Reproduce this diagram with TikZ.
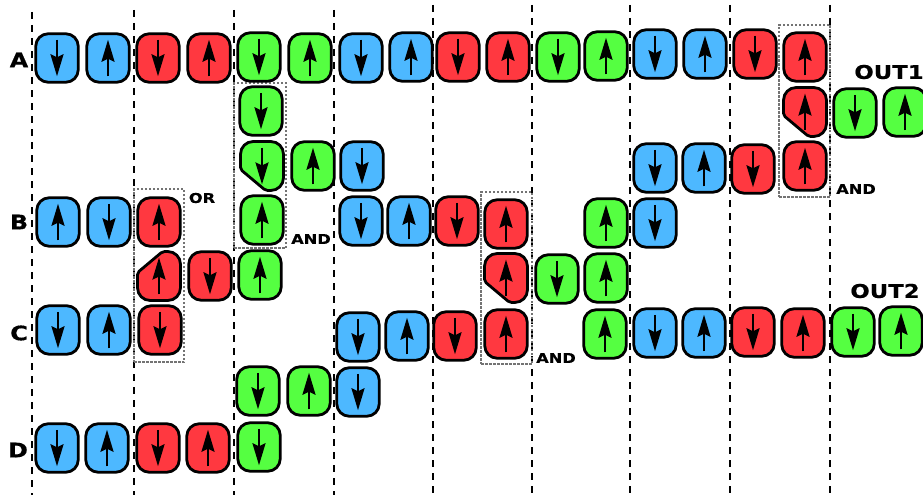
\documentclass[tikz,border=0pt]{standalone}
\usepackage{fontspec}
\setmainfont{DejaVu Sans}[FakeStretch=1.2, BoldFeatures={FakeBold=0.4}]
\usetikzlibrary{arrows.meta}
\definecolor{bluecell}{RGB}{77,184,255}
\definecolor{redcell}{RGB}{255,56,64}
\definecolor{greencell}{RGB}{85,255,65}

\begin{document}
\begin{tikzpicture}[
  x=1pt, y=-1pt,
  cellline/.style={draw, line width=2.8pt, line join=round},
  arr/.style={-{Stealth[length=22pt, width=13pt, inset=3pt]}, line width=2.2pt},
  box/.style={cellline, rounded corners=12.5pt, minimum width=42.5pt, minimum height=48.5pt,
              inner sep=0pt, fill=#1},
  dn/.style={box=#1, path picture={\draw[arr]
      ([yshift=-6pt]path picture bounding box.north) -- ([yshift=6pt]path picture bounding box.south);}},
  up/.style={box=#1, path picture={\draw[arr]
      ([yshift=6pt]path picture bounding box.south) -- ([yshift=-6pt]path picture bounding box.north);}},
  slot/.style={minimum width=42.5pt, minimum height=48.5pt, inner sep=0pt},
  zone/.style={dash pattern=on 7pt off 6pt, line width=2.2pt},
  gate/.style={draw=black!55, dash pattern=on 2.5pt off 1.5pt, line width=2.1pt,
               minimum width=#1, inner sep=0pt},
  lbl/.style={font=\fontsize{20}{20}\selectfont\bfseries, inner sep=0pt},
  outlbl/.style={font=\fontsize{19}{19}\selectfont\bfseries, inner sep=0pt},
  tag/.style={font=\fontsize{13.5}{14}\selectfont\bfseries, inner sep=0pt}]
\useasboundingbox (0,0) rectangle (923,495);
% clock zones
\foreach \x/\y in {32/12,134/10,234/10,334/10,433/5,532/5,630/5,730/5,830/5}
  \draw[zone] (\x,\y) -- (\x,495);
% majority gates
\node[gate=50pt, minimum height=173pt] (orgate) at (159,275.5) {};
\node[gate=52pt, minimum height=165pt] (andgatea) at (260,165.5) {};
\node[gate=51pt, minimum height=172pt] (andgateb) at (506.5,278) {};
\node[gate=51pt, minimum height=172pt] (andgatec) at (804.5,111) {};
% line A
\node[dn=bluecell] (a1) at (57,58) {};
\node[up=bluecell] (a2) at (108,58) {};
\node[dn=redcell] (a3) at (158,58) {};
\node[up=redcell] (a4) at (209,58) {};
\node[dn=greencell] (a5) at (259,57) {};
\node[up=greencell] (a6) at (310,58) {};
\node[dn=bluecell] (a7) at (361,58) {};
\node[up=bluecell] (a8) at (411,57) {};
\node[dn=redcell] (a9) at (458,57) {};
\node[up=redcell] (a10) at (508,57) {};
\node[dn=greencell] (a11) at (558,57) {};
\node[up=greencell] (a12) at (606,56) {};
\node[dn=bluecell] (a13) at (655,54) {};
\node[up=bluecell] (a14) at (705,54) {};
\node[dn=redcell] (a15) at (755,54) {};
\node[up=redcell] (a16) at (805,57) {};
% first gate and its branch
\node[dn=greencell] (e1) at (261,111) {};
\node[slot] (e2) at (262,166) {};
\draw[cellline, fill=greencell, rounded corners=12.5pt] (e2.north west) -- (e2.north east) -- (e2.south east)
  [rounded corners=2pt] -- ([xshift=25pt]e2.south west) -- ([yshift=21pt]e2.south west)
  [rounded corners=12.5pt] -- cycle;
\draw[arr] ([yshift=-6pt]e2.north) -- ([yshift=6pt]e2.south);
\node[up=greencell] (e3) at (262,220) {};
\node[up=greencell] (e4) at (313,166) {};
\node[dn=bluecell] (e5) at (362,166) {};
% line B
\node[up=bluecell] (b1) at (58,222) {};
\node[dn=bluecell] (b2) at (109,222) {};
\node[up=redcell] (b3) at (159,222) {};
\node[dn=bluecell] (b4) at (361,221) {};
\node[up=bluecell] (b5) at (409,221) {};
\node[dn=redcell] (b6) at (457,221) {};
\node[up=redcell] (b7) at (506,224) {};
\node[up=greencell] (b8) at (606,223) {};
\node[dn=bluecell] (b9) at (655,223) {};
% middle row
\node[slot] (m1) at (159,276) {};
\draw[cellline, fill=redcell, rounded corners=12.5pt] (m1.south west) -- (m1.south east) -- (m1.north east)
  [rounded corners=2pt] -- ([xshift=25pt]m1.north west) -- ([yshift=-21pt]m1.north west)
  [rounded corners=12.5pt] -- cycle;
\draw[arr] ([yshift=6pt]m1.south) -- ([yshift=-6pt]m1.north);
\node[dn=redcell] (m2) at (210,276) {};
\node[up=greencell] (m3) at (260,275) {};
\node[slot] (m4) at (506,278) {};
\draw[cellline, fill=redcell, rounded corners=12.5pt] (m4.north west) -- (m4.north east) -- (m4.south east)
  [rounded corners=2pt] -- ([xshift=25pt]m4.south west) -- ([yshift=21pt]m4.south west)
  [rounded corners=12.5pt] -- cycle;
\draw[arr] ([yshift=6pt]m4.south) -- ([yshift=-6pt]m4.north);
\node[dn=greencell] (m5) at (557,279) {};
\node[up=greencell] (m6) at (606,278) {};
% last gate and OUT1
\node[slot] (f1) at (805,112) {};
\draw[cellline, fill=redcell, rounded corners=12.5pt] (f1.north west) -- (f1.north east) -- (f1.south east)
  [rounded corners=2pt] -- ([xshift=25pt]f1.south west) -- ([yshift=21pt]f1.south west)
  [rounded corners=12.5pt] -- cycle;
\draw[arr] ([yshift=6pt]f1.south) -- ([yshift=-6pt]f1.north);
\node[dn=greencell] (f2) at (855,113) {};
\node[up=greencell] (f3) at (905,112) {};
\node[dn=bluecell] (f4) at (655,168) {};
\node[up=bluecell] (f5) at (704,168) {};
\node[dn=redcell] (f6) at (753,169) {};
\node[up=redcell] (f7) at (805,166) {};
% line C and OUT2
\node[dn=bluecell] (c1) at (58,330) {};
\node[up=bluecell] (c2) at (109,330) {};
\node[dn=redcell] (c3) at (160,330) {};
\node[dn=bluecell] (c4) at (358,337) {};
\node[up=bluecell] (c5) at (407,336) {};
\node[dn=redcell] (c6) at (455,336) {};
\node[up=redcell] (c7) at (506,334) {};
\node[up=greencell] (c8) at (605,334) {};
\node[dn=bluecell] (c9) at (655,333) {};
\node[up=bluecell] (c10) at (704,333) {};
\node[dn=redcell] (c11) at (753,332) {};
\node[up=redcell] (c12) at (803,333) {};
\node[dn=greencell] (c13) at (853,332) {};
\node[up=greencell] (c14) at (901,331) {};
% line D
\node[dn=greencell] (g1) at (258,391) {};
\node[up=greencell] (g2) at (309,391) {};
\node[dn=bluecell] (g3) at (358,392) {};
\node[dn=bluecell] (d1) at (57,448) {};
\node[up=bluecell] (d2) at (107,448) {};
\node[dn=redcell] (d3) at (158,448) {};
\node[up=redcell] (d4) at (208,448) {};
\node[dn=greencell] (d5) at (259,447) {};
% inputs, outputs and gate names
\node[lbl] (la) at (19,60) {A};
\node[lbl] (lb) at (19,222) {B};
\node[lbl] (lc) at (19,333) {C};
\node[lbl] (ld) at (18,450) {D};
\node[outlbl] (out1) at (889,72) {OUT1};
\node[outlbl] (out2) at (885,291) {OUT2};
\node[tag] (tor) at (202,198) {OR};
\node[tag] (tanda) at (311,239) {AND};
\node[tag] (tandb) at (556,358) {AND};
\node[tag] (tandc) at (856,189) {AND};
\end{tikzpicture}
\end{document}
